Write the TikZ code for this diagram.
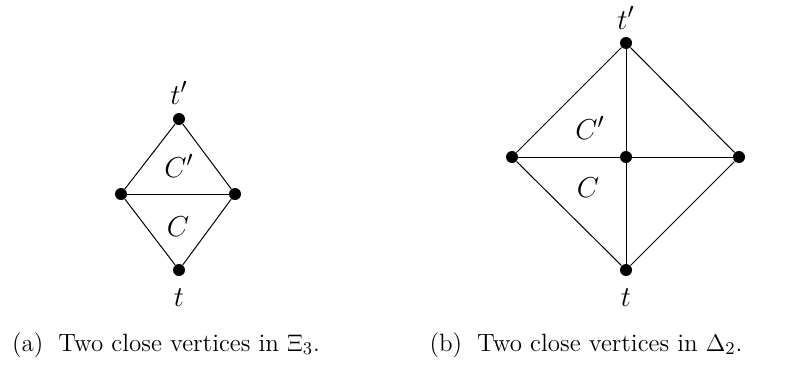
\documentclass[tikz,border=0pt]{standalone}
\usepackage{amsmath}
\usetikzlibrary{positioning}
\tikzset{
  vertex/.style={circle,fill=black,inner sep=0pt,minimum size=6pt},
  edge/.style={line width=0.5pt},
  lab/.style={inner sep=1pt,font=\fontsize{15.5}{18}\selectfont},
  caption/.style={inner sep=0pt,font=\fontsize{12.5}{15}\selectfont}
}
\begin{document}
\begin{tikzpicture}[x=0.5pt,y=-0.5pt]
  \useasboundingbox (0,0) rectangle (788,370);

  % (a) Xi_3
  \node[vertex] (at) at (179,119) {};
  \node[vertex] (al) at (121,194) {};
  \node[vertex] (ar) at (235,194) {};
  \node[vertex] (ab) at (179,270) {};
  \draw[edge] (at) -- (al) -- (ab) -- (ar) -- (at);
  \draw[edge] (al) -- (ar);
  \node[lab] at (179,93) {$t'$};
  \node[lab] at (179,298) {$t$};
  \node[lab] at (179,166) {$C'$};
  \node[lab] at (178,227) {$C$};
  \node[caption] (capa) at (166,345) {(a)\hspace{0.6em}Two close vertices in $\Xi_3$.};

  % (b) Delta_2
  \node[vertex] (bt) at (626,43) {};
  \node[vertex] (bl) at (512,157) {};
  \node[vertex] (bc) at (626,157) {};
  \node[vertex] (br) at (739,157) {};
  \node[vertex] (bb) at (626,270) {};
  \draw[edge] (bt) -- (bl) -- (bb) -- (br) -- (bt);
  \draw[edge] (bl) -- (bc) -- (br);
  \draw[edge] (bt) -- (bc) -- (bb);
  \node[lab] at (626,18) {$t'$};
  \node[lab] at (626,298) {$t$};
  \node[lab] at (590,128) {$C'$};
  \node[lab] at (588,188) {$C$};
  \node[caption] (capb) at (586,345) {(b)\hspace{0.6em}Two close vertices in $\Delta_2$.};
\end{tikzpicture}
\end{document}
